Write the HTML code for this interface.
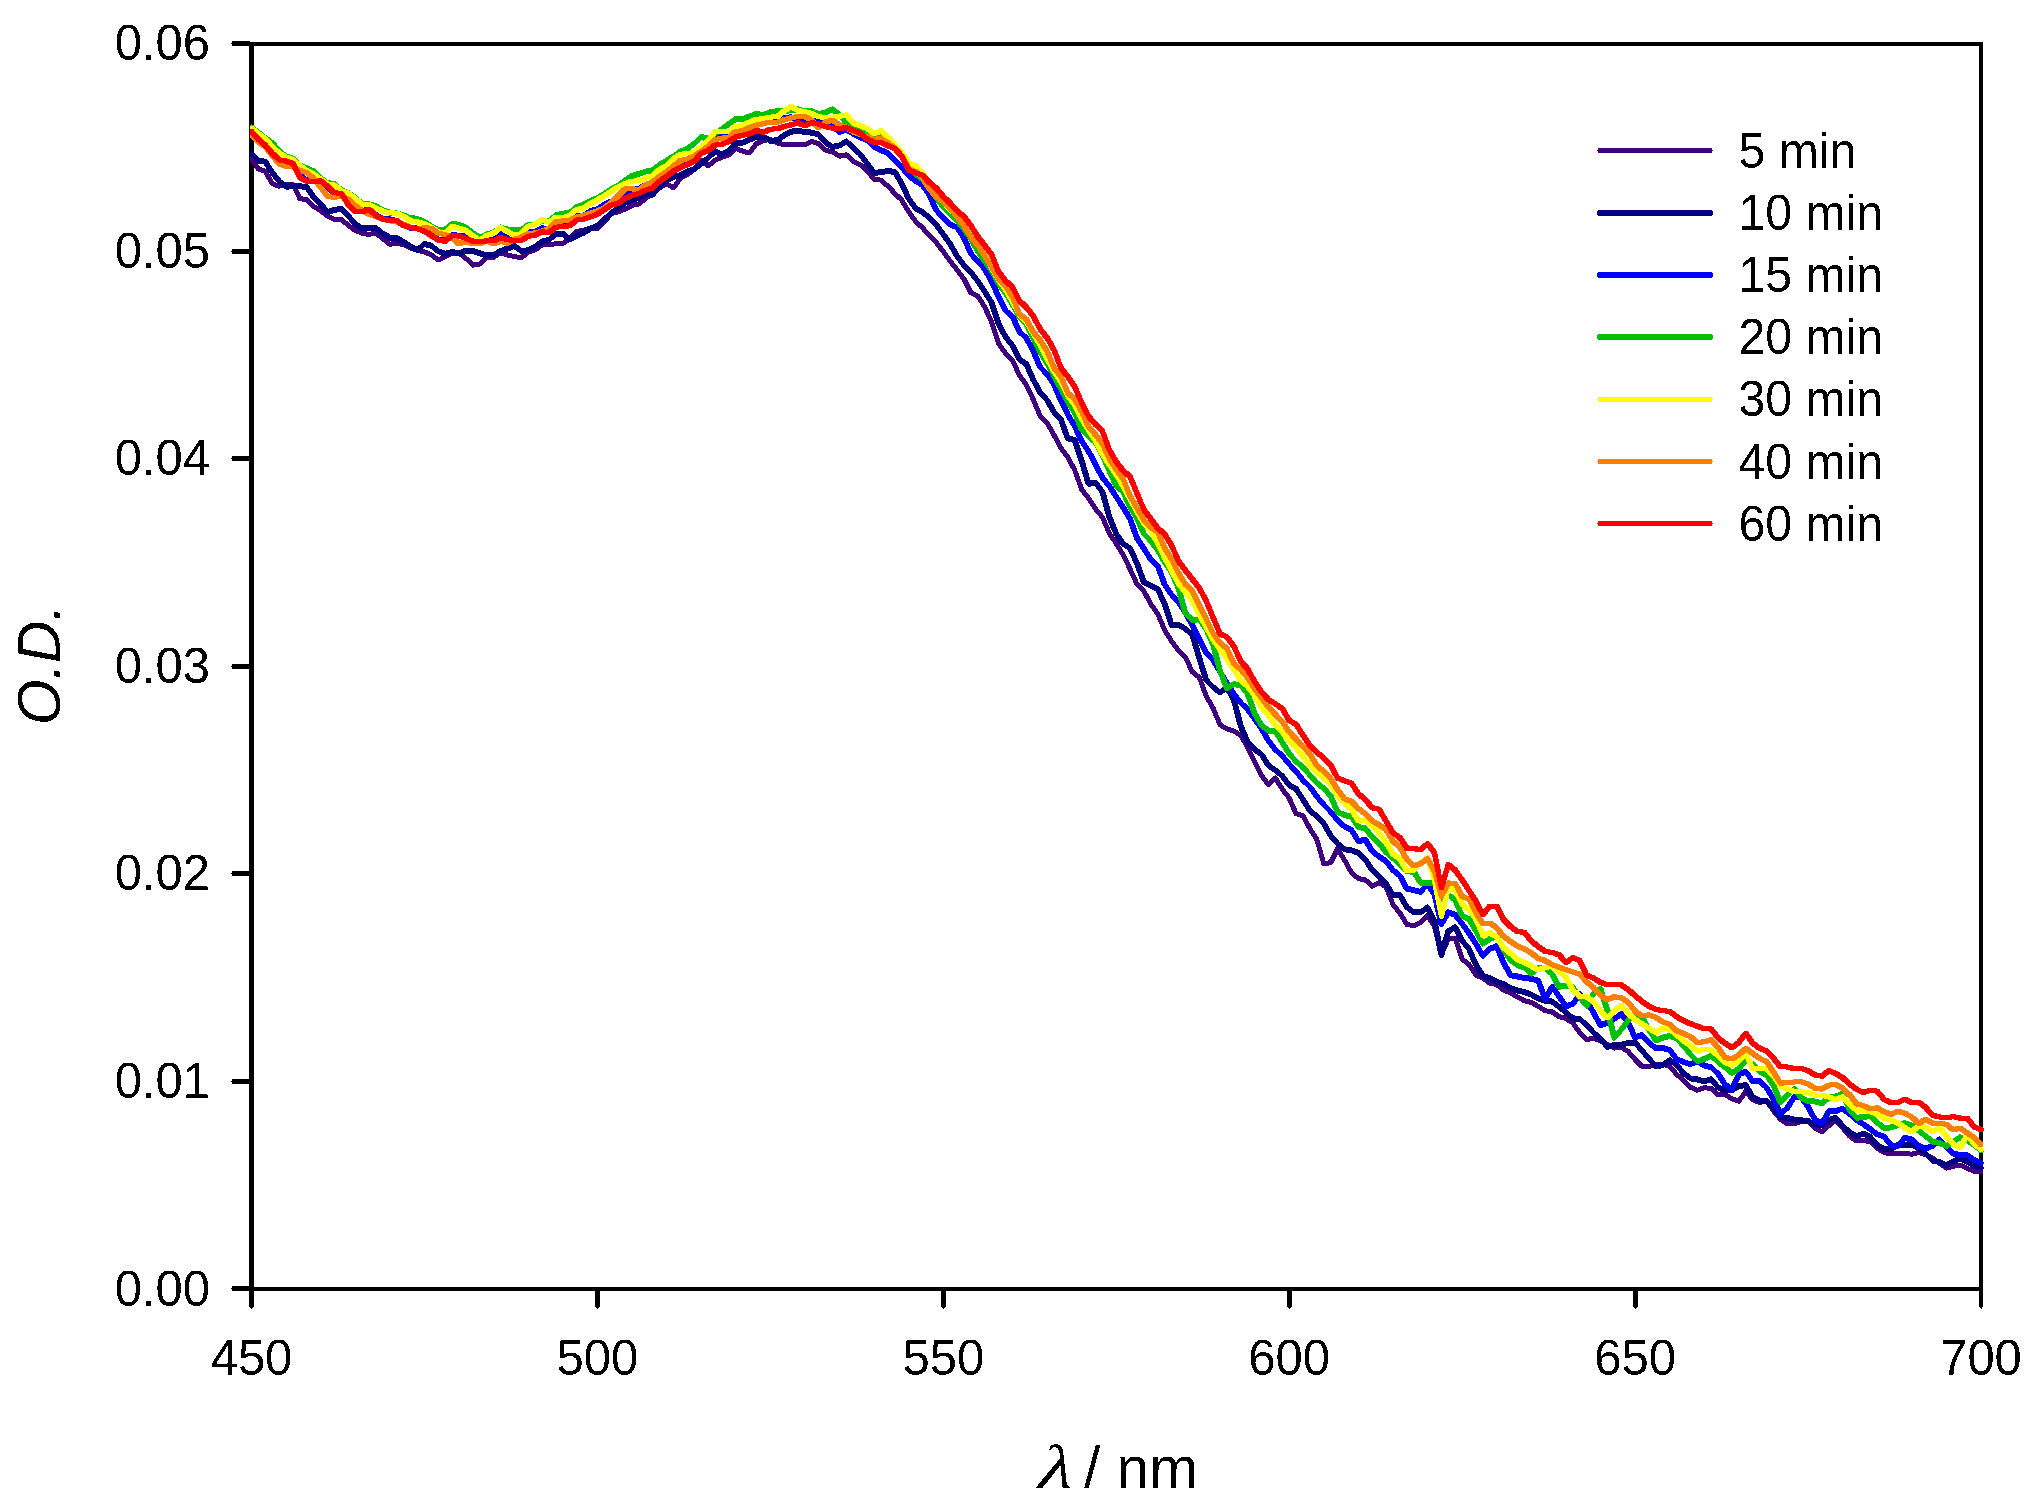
<!DOCTYPE html>
<html><head><meta charset="utf-8"><title>O.D. vs wavelength</title>
<style>
html,body{margin:0;padding:0;background:#fff;}
body{width:2037px;height:1503px;overflow:hidden;}
svg{display:block;}
text{font-family:"Liberation Sans",Arial,sans-serif;fill:#000;}
.txt{filter:url(#bin);}
.tk{font-size:49px;}
.ti{font-size:58px;}
.ax{stroke:#000;stroke-width:4;fill:none;stroke-linecap:butt;}
.cv use,polyline{fill:none;stroke-linejoin:round;stroke-linecap:round;}
.lg line{stroke-width:4.5;stroke-linecap:round;}
</style></head><body>
<svg width="2037" height="1503" viewBox="0 0 2037 1503">
<rect width="2037" height="1503" fill="#fff"/>
<defs><filter id="bin" x="0" y="0" width="100%" height="100%" filterUnits="userSpaceOnUse" color-interpolation-filters="sRGB"><feComponentTransfer><feFuncA type="discrete" tableValues="0 1"/></feComponentTransfer></filter></defs>

<g fill="#000" shape-rendering="crispEdges">
<rect x="249" y="42" width="5" height="1249"/>
<rect x="1979" y="42" width="4" height="1249"/>
<rect x="249" y="42" width="1734" height="4"/>
<rect x="249" y="1287" width="1734" height="4"/>
<rect x="232" y="1286" width="18" height="5"/><rect x="231" y="1288" width="1" height="1"/>
<rect x="232" y="1079" width="18" height="5"/><rect x="231" y="1081" width="1" height="1"/>
<rect x="232" y="871" width="18" height="5"/><rect x="231" y="873" width="1" height="1"/>
<rect x="232" y="664" width="18" height="5"/><rect x="231" y="666" width="1" height="1"/>
<rect x="232" y="456" width="18" height="5"/><rect x="231" y="458" width="1" height="1"/>
<rect x="232" y="249" width="18" height="5"/><rect x="231" y="251" width="1" height="1"/>
<rect x="232" y="41" width="18" height="5"/><rect x="231" y="43" width="1" height="1"/>
<rect x="249" y="1290" width="5" height="17"/><rect x="250" y="1307" width="3" height="1"/><rect x="251" y="1308" width="1" height="1"/>
<rect x="595" y="1290" width="5" height="17"/><rect x="596" y="1307" width="3" height="1"/><rect x="597" y="1308" width="1" height="1"/>
<rect x="941" y="1290" width="5" height="17"/><rect x="942" y="1307" width="3" height="1"/><rect x="943" y="1308" width="1" height="1"/>
<rect x="1287" y="1290" width="5" height="17"/><rect x="1288" y="1307" width="3" height="1"/><rect x="1289" y="1308" width="1" height="1"/>
<rect x="1633" y="1290" width="5" height="17"/><rect x="1634" y="1307" width="3" height="1"/><rect x="1635" y="1308" width="1" height="1"/>
<rect x="1979" y="1290" width="4" height="17"/><rect x="1980" y="1307" width="2" height="1"/><rect x="1981" y="1308" width="1" height="1"/>
</g>
<g class="txt"><g class="tk">
<text transform="translate(210.0,1305.6) scale(1.000,1.035)" text-anchor="end">0.00</text>
<text transform="translate(210.0,1098.0) scale(1.000,1.035)" text-anchor="end">0.01</text>
<text transform="translate(210.0,890.4) scale(1.000,1.035)" text-anchor="end">0.02</text>
<text transform="translate(210.0,682.9) scale(1.000,1.035)" text-anchor="end">0.03</text>
<text transform="translate(210.0,475.3) scale(1.000,1.035)" text-anchor="end">0.04</text>
<text transform="translate(210.0,267.7) scale(1.000,1.035)" text-anchor="end">0.05</text>
<text transform="translate(210.0,60.1) scale(1.000,1.035)" text-anchor="end">0.06</text>
<text transform="translate(251.5,1375.1) scale(1.000,1.035)" text-anchor="middle">450</text>
<text transform="translate(597.4,1375.1) scale(1.000,1.035)" text-anchor="middle">500</text>
<text transform="translate(943.3,1375.1) scale(1.000,1.035)" text-anchor="middle">550</text>
<text transform="translate(1289.2,1375.1) scale(1.000,1.035)" text-anchor="middle">600</text>
<text transform="translate(1635.1,1375.1) scale(1.000,1.035)" text-anchor="middle">650</text>
<text transform="translate(1981.0,1375.1) scale(1.000,1.035)" text-anchor="middle">700</text>
</g>
<text class="ti" transform="translate(60.3,664.8) rotate(-90) scale(1.012,1.06)" text-anchor="middle" font-style="italic">O.D.</text>
<text transform="translate(1034,1487.6) skewX(-16) scale(1.2,1)" style="font-family:&quot;Liberation Serif&quot;,serif;font-size:62px">λ</text>
<text transform="translate(1084.0,1487.8) scale(1.012,1.035)" text-anchor="start" class="ti">/ nm</text>
</g>
<defs><polyline id="c_purple" points="251.5,159.2 258.4,169.1 265.3,171.4 272.3,183.7 279.2,186.2 286.1,184.4 293,184.8 299.9,198.7 306.8,199.5 313.8,206.4 320.7,210.9 327.6,216.2 334.5,219.6 341.4,219.4 348.4,225.5 355.3,230.5 362.2,233.2 369.1,234.5 376,232.9 382.9,238.9 389.9,244.2 396.8,243.4 403.7,244.7 410.6,248 417.5,250.5 424.4,251.8 431.4,255 438.3,260 445.2,256.4 452.1,253.2 459,253.1 466,258.5 472.9,265.1 479.8,264.1 486.7,257.8 493.6,257.4 500.5,252.7 507.5,255 514.4,256.6 521.3,257.7 528.2,252.3 535.1,250 542.1,245 549,244.7 555.9,243.8 562.8,243.6 569.7,238.7 576.6,231.4 583.6,230.2 590.5,228 597.4,229 604.3,221.8 611.2,213.8 618.2,211.7 625.1,209.2 632,205.4 638.9,203.9 645.8,198.4 652.7,193.3 659.7,187.7 666.6,184 673.5,187.8 680.4,178.3 687.3,174.5 694.3,169.6 701.2,160.5 708.1,166 715,160.2 721.9,157.4 728.8,155.1 735.8,148.3 742.7,151.3 749.6,152.9 756.5,143.7 763.4,140.5 770.4,139.4 777.3,143 784.2,144.7 791.1,144.3 798,144.4 804.9,144.8 811.9,141.4 818.8,143.7 825.7,150.3 832.6,151.9 839.5,156.2 846.4,154.8 853.4,161.7 860.3,164.8 867.2,170.9 874.1,179.4 881,180.1 888,186.3 894.9,193.5 901.8,200.2 908.7,211.8 915.6,221.3 922.5,227.9 929.5,235.4 936.4,242.7 943.3,251.6 950.2,261.3 957.1,270 964.1,279.1 971,292.9 977.9,296.2 984.8,307.2 991.7,322.3 998.6,343.6 1005.6,353.3 1012.5,360.3 1019.4,375.2 1026.3,384.9 1033.2,399.4 1040.2,416 1047.1,422.8 1054,435 1060.9,448.1 1067.8,457 1074.7,470.2 1081.7,489.4 1088.6,498.4 1095.5,508.9 1102.4,517.1 1109.3,533.3 1116.2,543.5 1123.2,554.9 1130.1,569.2 1137,584.3 1143.9,591.1 1150.8,604 1157.8,614 1164.7,630.1 1171.6,641.4 1178.5,650.4 1185.4,657.3 1192.3,671.9 1199.3,677.4 1206.2,696 1213.1,708.1 1220,724.7 1226.9,728.9 1233.9,731.1 1240.8,735.5 1247.7,747.5 1254.6,761.5 1261.5,775.7 1268.4,784.4 1275.4,778 1282.3,789.2 1289.2,798.2 1296.1,813.7 1303,815.8 1310,828.8 1316.9,839.6 1323.8,863.7 1330.7,862.7 1337.6,848.7 1344.5,860.1 1351.5,872.7 1358.4,878.6 1365.3,879.9 1372.2,886.2 1379.1,882.8 1386.1,886.7 1393,904.6 1399.9,913 1406.8,924.4 1413.7,925.8 1420.6,922.5 1427.6,915.7 1434.5,926.4 1441.4,954.5 1448.3,938.8 1455.2,938.2 1462.2,959.3 1469.1,964.4 1476,975.2 1482.9,978.2 1489.8,983.2 1496.7,984.6 1503.7,990.3 1510.6,992.9 1517.5,997.1 1524.4,1000.7 1531.3,1002.4 1538.2,1006.3 1545.2,1010.7 1552.1,1011.9 1559,1016.5 1565.9,1018.5 1572.8,1023 1579.8,1032.6 1586.7,1039.7 1593.6,1038 1600.5,1041.1 1607.4,1044.4 1614.3,1048.1 1621.3,1047.3 1628.2,1051.6 1635.1,1059.6 1642,1066.5 1648.9,1066.3 1655.9,1065 1662.8,1064.2 1669.7,1066.4 1676.6,1074.4 1683.5,1080.2 1690.4,1087.3 1697.4,1090.2 1704.3,1087.8 1711.2,1088.3 1718.1,1094.8 1725,1094.3 1732,1099 1738.9,1101.1 1745.8,1091.6 1752.7,1099.6 1759.6,1102.7 1766.5,1100.6 1773.5,1110.9 1780.4,1119.3 1787.3,1123.9 1794.2,1123.7 1801.1,1121.7 1808,1120.2 1815,1127.9 1821.9,1132 1828.8,1125.7 1835.7,1120 1842.6,1127.8 1849.6,1136.2 1856.5,1141 1863.4,1140.5 1870.3,1141.6 1877.2,1148.4 1884.1,1152.5 1891.1,1154 1898,1153.7 1904.9,1153.5 1911.8,1154.2 1918.7,1152.4 1925.7,1154.6 1932.6,1157.9 1939.5,1163.4 1946.4,1168.1 1953.3,1166.3 1960.2,1165.1 1967.2,1168.4 1974.1,1171.2 1981,1171.4"/><polyline id="c_navy" points="251.5,153.4 258.4,160.5 265.3,161.7 272.3,172.5 279.2,181.3 286.1,186.6 293,186.4 299.9,186.2 306.8,187.2 313.8,197.3 320.7,203.9 327.6,212.3 334.5,209.8 341.4,209.1 348.4,216.1 355.3,224.2 362.2,228.5 369.1,228.2 376,228.2 382.9,233.6 389.9,237.6 396.8,238 403.7,242.1 410.6,246.3 417.5,250 424.4,243.9 431.4,245.8 438.3,251.3 445.2,253.8 452.1,251.9 459,253.4 466,250.5 472.9,251.1 479.8,253.2 486.7,255.4 493.6,255 500.5,251.1 507.5,248.5 514.4,246 521.3,250.8 528.2,250.4 535.1,246.6 542.1,241.5 549,239.9 555.9,233.9 562.8,233.6 569.7,239.3 576.6,235.9 583.6,232.8 590.5,228.6 597.4,225.6 604.3,219.3 611.2,213.2 618.2,207.9 625.1,202.6 632,200 638.9,197.8 645.8,194.1 652.7,194.6 659.7,186.6 666.6,180.8 673.5,176.9 680.4,175.3 687.3,171.5 694.3,169 701.2,163.8 708.1,158 715,151.3 721.9,154.6 728.8,150.7 735.8,142.8 742.7,142.6 749.6,139.7 756.5,136.5 763.4,136.6 770.4,140.9 777.3,140.1 784.2,135.3 791.1,131.7 798,130.7 804.9,132.1 811.9,132.6 818.8,134.6 825.7,142.7 832.6,147 839.5,145.4 846.4,141.5 853.4,147.7 860.3,154.4 867.2,163.7 874.1,173 881,172.1 888,171.1 894.9,171.9 901.8,183.8 908.7,198.7 915.6,208.3 922.5,212.1 929.5,217.9 936.4,225 943.3,234.4 950.2,244 957.1,256.1 964.1,265.4 971,272.4 977.9,281.3 984.8,291.8 991.7,302.8 998.6,324.1 1005.6,336.9 1012.5,345.6 1019.4,359.5 1026.3,364 1033.2,379.5 1040.2,392.7 1047.1,400 1054,412.1 1060.9,419.4 1067.8,438.5 1074.7,440 1081.7,461.1 1088.6,483.8 1095.5,482.9 1102.4,491.7 1109.3,516.8 1116.2,533.8 1123.2,543.9 1130.1,548.4 1137,563.4 1143.9,582.4 1150.8,585.8 1157.8,589 1164.7,604.2 1171.6,625.1 1178.5,625 1185.4,628.8 1192.3,634.7 1199.3,658.1 1206.2,680 1213.1,687.1 1220,692.5 1226.9,687.4 1233.9,700 1240.8,726.2 1247.7,742.1 1254.6,749.5 1261.5,754.3 1268.4,765.4 1275.4,770.3 1282.3,776 1289.2,785.2 1296.1,788.9 1303,799.6 1310,810.8 1316.9,816.2 1323.8,823.6 1330.7,835.7 1337.6,843.6 1344.5,849.3 1351.5,850.3 1358.4,852.9 1365.3,859.5 1372.2,870.1 1379.1,876.5 1386.1,883.8 1393,895.4 1399.9,895.1 1406.8,907.2 1413.7,912.1 1420.6,912.3 1427.6,907.4 1434.5,921 1441.4,954.9 1448.3,931.2 1455.2,927.2 1462.2,940.7 1469.1,949.1 1476,965 1482.9,975.8 1489.8,978.3 1496.7,981.8 1503.7,984.1 1510.6,988 1517.5,990.5 1524.4,992.1 1531.3,994.6 1538.2,998.3 1545.2,1000.7 1552.1,1001.6 1559,1006.7 1565.9,1012.3 1572.8,1018.3 1579.8,1019.1 1586.7,1025.1 1593.6,1032.6 1600.5,1038.9 1607.4,1046.9 1614.3,1045.1 1621.3,1044.8 1628.2,1042.9 1635.1,1042.6 1642,1050.6 1648.9,1058.6 1655.9,1066.3 1662.8,1065.2 1669.7,1060.2 1676.6,1064.7 1683.5,1073.2 1690.4,1078.4 1697.4,1079.5 1704.3,1081.4 1711.2,1079.2 1718.1,1087.4 1725,1090.7 1732,1090.2 1738.9,1086 1745.8,1085.2 1752.7,1097.2 1759.6,1100.5 1766.5,1100.8 1773.5,1108.1 1780.4,1117.3 1787.3,1117.8 1794.2,1119.5 1801.1,1120.3 1808,1121.4 1815,1124.2 1821.9,1124.8 1828.8,1119.9 1835.7,1117.7 1842.6,1125.8 1849.6,1132.2 1856.5,1136.1 1863.4,1133.7 1870.3,1137 1877.2,1145.2 1884.1,1148.8 1891.1,1149.2 1898,1144.6 1904.9,1145.4 1911.8,1144.6 1918.7,1148.2 1925.7,1153.6 1932.6,1160.6 1939.5,1162.1 1946.4,1165.1 1953.3,1161.7 1960.2,1158.1 1967.2,1161.7 1974.1,1165.4 1981,1168.2"/><polyline id="c_blue" points="251.5,132.9 258.4,140.2 265.3,145.9 272.3,153.5 279.2,158.1 286.1,160.1 293,162.1 299.9,175.1 306.8,180.3 313.8,181.2 320.7,181.6 327.6,188.6 334.5,192.8 341.4,193.8 348.4,202.3 355.3,209.6 362.2,211.4 369.1,208.9 376,214.9 382.9,218.9 389.9,219.3 396.8,221.2 403.7,225.3 410.6,227.8 417.5,228.6 424.4,231.2 431.4,235.1 438.3,239.6 445.2,240.4 452.1,234.9 459,235.8 466,236.4 472.9,238.8 479.8,240.2 486.7,237.6 493.6,238.9 500.5,233.9 507.5,235.9 514.4,238.1 521.3,237.5 528.2,232.2 535.1,231.9 542.1,228.2 549,229.6 555.9,224.4 562.8,223.1 569.7,222 576.6,216.5 583.6,215.8 590.5,211 597.4,209.3 604.3,204.6 611.2,201.4 618.2,198.8 625.1,194.6 632,189.8 638.9,188.7 645.8,184.7 652.7,182.1 659.7,176.1 666.6,171.2 673.5,167.7 680.4,163.4 687.3,159.4 694.3,154.4 701.2,148.5 708.1,144.3 715,137.1 721.9,137 728.8,137.3 735.8,130.5 742.7,127.9 749.6,126.6 756.5,124.4 763.4,122.2 770.4,120.2 777.3,121.7 784.2,118.2 791.1,117.3 798,119.8 804.9,122.3 811.9,120.6 818.8,121.9 825.7,123.4 832.6,126.7 839.5,132 846.4,129.5 853.4,133.8 860.3,137.4 867.2,140.3 874.1,146.9 881,150.2 888,153.1 894.9,160.4 901.8,167.6 908.7,175.4 915.6,181.2 922.5,184.9 929.5,195.3 936.4,210.4 943.3,217.8 950.2,224.4 957.1,227.4 964.1,238.3 971,254 977.9,261.3 984.8,269.2 991.7,281.8 998.6,296.5 1005.6,310.7 1012.5,316.4 1019.4,331.8 1026.3,337.9 1033.2,350.7 1040.2,367.3 1047.1,374.3 1054,384.4 1060.9,400.6 1067.8,414.6 1074.7,426.1 1081.7,441 1088.6,451.4 1095.5,464.3 1102.4,477.6 1109.3,486 1116.2,496.8 1123.2,507.5 1130.1,519 1137,538.2 1143.9,548.5 1150.8,559.6 1157.8,565.9 1164.7,584.7 1171.6,594.7 1178.5,602.4 1185.4,612.5 1192.3,625.2 1199.3,638.9 1206.2,652.9 1213.1,659.9 1220,671.8 1226.9,683 1233.9,694.1 1240.8,702.7 1247.7,709.4 1254.6,718.8 1261.5,728.7 1268.4,740.7 1275.4,749.7 1282.3,755.8 1289.2,764.3 1296.1,771.4 1303,780.3 1310,786.9 1316.9,796.5 1323.8,804.7 1330.7,811.8 1337.6,820.4 1344.5,826.6 1351.5,830.1 1358.4,841.1 1365.3,839.7 1372.2,851.2 1379.1,856.5 1386.1,861.2 1393,870.2 1399.9,875.8 1406.8,888.6 1413.7,890.1 1420.6,892 1427.6,883.8 1434.5,894.6 1441.4,924.1 1448.3,912.3 1455.2,914.9 1462.2,924 1469.1,933.3 1476,944 1482.9,956 1489.8,948.9 1496.7,946.1 1503.7,963 1510.6,975.3 1517.5,976.5 1524.4,978 1531.3,978.8 1538.2,980.6 1545.2,999 1552.1,986.8 1559,996.2 1565.9,1006.4 1572.8,1003.9 1579.8,994.3 1586.7,1001.2 1593.6,1012.7 1600.5,1025.3 1607.4,1022.7 1614.3,1018.8 1621.3,1013.9 1628.2,1022.8 1635.1,1037.5 1642,1035 1648.9,1042.8 1655.9,1048.1 1662.8,1047.9 1669.7,1050 1676.6,1059 1683.5,1062.1 1690.4,1064.2 1697.4,1061.4 1704.3,1065.6 1711.2,1067.4 1718.1,1073.8 1725,1084.4 1732,1089.1 1738.9,1074.3 1745.8,1071.6 1752.7,1081.2 1759.6,1081 1766.5,1087.6 1773.5,1099 1780.4,1113.9 1787.3,1107.9 1794.2,1097.1 1801.1,1097.4 1808,1106.7 1815,1119.6 1821.9,1123.3 1828.8,1111.4 1835.7,1111.1 1842.6,1108.6 1849.6,1113.8 1856.5,1119.9 1863.4,1124.3 1870.3,1129.1 1877.2,1134.3 1884.1,1136.5 1891.1,1145.4 1898,1145.8 1904.9,1137.8 1911.8,1139.6 1918.7,1145.9 1925.7,1148.6 1932.6,1145.9 1939.5,1139.3 1946.4,1146.6 1953.3,1153.5 1960.2,1155 1967.2,1155.1 1974.1,1159.9 1981,1162.9"/><polyline id="c_green" points="251.5,127.5 258.4,132.5 265.3,137.9 272.3,142.9 279.2,150.6 286.1,156.6 293,158.6 299.9,165.3 306.8,168.3 313.8,171.3 320.7,177.9 327.6,183.3 334.5,183.8 341.4,190.1 348.4,193.1 355.3,197.7 362.2,203.7 369.1,204.4 376,206.2 382.9,210.3 389.9,212.6 396.8,213.4 403.7,215.6 410.6,218.1 417.5,218.8 424.4,221.9 431.4,226.2 438.3,229.8 445.2,229.5 452.1,223.8 459,224.9 466,227.6 472.9,233 479.8,237.5 486.7,234.4 493.6,232.7 500.5,227.5 507.5,229.5 514.4,230.4 521.3,229.9 528.2,225 535.1,224.4 542.1,220.8 549,221.4 555.9,215.2 562.8,213.6 569.7,212.9 576.6,207 583.6,204.6 590.5,200.8 597.4,198 604.3,193.9 611.2,189.2 618.2,185.8 625.1,180.5 632,175.9 638.9,173.9 645.8,171.5 652.7,170.3 659.7,164.7 666.6,160.7 673.5,156.3 680.4,151.6 687.3,148.8 694.3,143.6 701.2,136.9 708.1,138.6 715,133.4 721.9,129.3 728.8,123.8 735.8,119 742.7,119 749.6,116.3 756.5,113.9 763.4,115.1 770.4,112.3 777.3,111.1 784.2,111.4 791.1,110 798,109.3 804.9,111.3 811.9,111.4 818.8,114 825.7,112.3 832.6,109.3 839.5,114.8 846.4,122.9 853.4,128.6 860.3,130.5 867.2,133.6 874.1,136.1 881,136.5 888,140 894.9,144.8 901.8,152.5 908.7,163.3 915.6,174.2 922.5,179.2 929.5,188 936.4,197.8 943.3,207 950.2,213.6 957.1,220.9 964.1,229.1 971,238.9 977.9,251.4 984.8,261.5 991.7,270.5 998.6,283.6 1005.6,293 1012.5,304.3 1019.4,316.8 1026.3,323.9 1033.2,338.1 1040.2,351.8 1047.1,363.4 1054,375.5 1060.9,388.7 1067.8,401.7 1074.7,412.6 1081.7,429.6 1088.6,436.6 1095.5,442.3 1102.4,454.9 1109.3,470.5 1116.2,486.1 1123.2,491.8 1130.1,507.2 1137,518.2 1143.9,533.9 1150.8,541 1157.8,550.1 1164.7,562.1 1171.6,572.2 1178.5,588.3 1185.4,613.3 1192.3,620 1199.3,619.3 1206.2,628.9 1213.1,644.5 1220,670.7 1226.9,688.2 1233.9,684.2 1240.8,685.1 1247.7,693.9 1254.6,713.4 1261.5,725.4 1268.4,730.5 1275.4,731.2 1282.3,742.4 1289.2,753.8 1296.1,761.5 1303,767.2 1310,775.3 1316.9,783 1323.8,788.3 1330.7,796.1 1337.6,812.2 1344.5,814.9 1351.5,816.8 1358.4,827.1 1365.3,828.3 1372.2,837 1379.1,843.4 1386.1,852.3 1393,858.2 1399.9,864.5 1406.8,871.3 1413.7,871.7 1420.6,882.8 1427.6,883.4 1434.5,883.1 1441.4,899.4 1448.3,894.7 1455.2,899.9 1462.2,916.2 1469.1,918.9 1476,930.9 1482.9,943.5 1489.8,939 1496.7,936.1 1503.7,950 1510.6,960.5 1517.5,965.1 1524.4,967.5 1531.3,973.6 1538.2,968 1545.2,968.1 1552.1,974 1559,986.8 1565.9,985.5 1572.8,987.2 1579.8,997.4 1586.7,1005.7 1593.6,993.2 1600.5,988.7 1607.4,1010.3 1614.3,1037.7 1621.3,1029.6 1628.2,1020.4 1635.1,1014.7 1642,1017 1648.9,1029.9 1655.9,1040.5 1662.8,1037.7 1669.7,1035.9 1676.6,1038.3 1683.5,1045.8 1690.4,1054.4 1697.4,1061.4 1704.3,1058.9 1711.2,1055.6 1718.1,1062 1725,1067.2 1732,1073.1 1738.9,1068.7 1745.8,1060.4 1752.7,1063.9 1759.6,1071.8 1766.5,1074.8 1773.5,1085.5 1780.4,1102.3 1787.3,1095.5 1794.2,1088.8 1801.1,1097.6 1808,1101.3 1815,1101.5 1821.9,1103.3 1828.8,1097.7 1835.7,1096.5 1842.6,1093.7 1849.6,1109.9 1856.5,1117.6 1863.4,1117.3 1870.3,1115.6 1877.2,1122.6 1884.1,1128 1891.1,1127.4 1898,1125.2 1904.9,1123.1 1911.8,1125.4 1918.7,1130.8 1925.7,1136.2 1932.6,1141.7 1939.5,1143 1946.4,1146 1953.3,1142 1960.2,1137.2 1967.2,1140.4 1974.1,1145 1981,1150.4"/><polyline id="c_yellow" points="251.5,128.1 258.4,133.6 265.3,138.9 272.3,146.7 279.2,153.2 286.1,157 293,159.5 299.9,165.7 306.8,170.7 313.8,174.2 320.7,179.3 327.6,184 334.5,185.1 341.4,190.7 348.4,193.4 355.3,198.7 362.2,204.3 369.1,204.8 376,208 382.9,211.3 389.9,212.8 396.8,213.2 403.7,216.4 410.6,220.8 417.5,222 424.4,223.7 431.4,227.4 438.3,231.9 445.2,232.9 452.1,226.3 459,228.2 466,230.5 472.9,235.7 479.8,240.4 486.7,235.5 493.6,233.3 500.5,227.6 507.5,231.5 514.4,235.5 521.3,233.7 528.2,226.3 535.1,224.4 542.1,219.8 549,222.3 555.9,217.2 562.8,217.8 569.7,215.5 576.6,209.6 583.6,208.2 590.5,203.4 597.4,199.9 604.3,195.8 611.2,191.3 618.2,187 625.1,183.7 632,181.2 638.9,180.7 645.8,178.1 652.7,176 659.7,169.5 666.6,165.7 673.5,158.8 680.4,154.4 687.3,153.4 694.3,152.7 701.2,147.3 708.1,140.8 715,131.3 721.9,131.6 728.8,131.9 735.8,126.9 742.7,125 749.6,122.1 756.5,119.3 763.4,118.8 770.4,117.1 777.3,116.6 784.2,111 791.1,106.7 798,110.5 804.9,111.6 811.9,113.8 818.8,116.8 825.7,117.5 832.6,117.2 839.5,116.2 846.4,115 853.4,123.3 860.3,125.7 867.2,128.5 874.1,133.8 881,130.8 888,137.6 894.9,145 901.8,152.2 908.7,163.1 915.6,165.7 922.5,172.8 929.5,184.4 936.4,192.4 943.3,201.8 950.2,209.7 957.1,215.2 964.1,224.4 971,233.4 977.9,243.3 984.8,253.3 991.7,268.2 998.6,279.7 1005.6,289.5 1012.5,301.4 1019.4,314.5 1026.3,321.4 1033.2,333.2 1040.2,344.7 1047.1,358.8 1054,371.2 1060.9,381.7 1067.8,395.7 1074.7,404.6 1081.7,418.9 1088.6,430 1095.5,440.3 1102.4,454 1109.3,464.6 1116.2,474.3 1123.2,486.2 1130.1,499.1 1137,511.4 1143.9,523.2 1150.8,530.6 1157.8,543.2 1164.7,557.7 1171.6,570.7 1178.5,583.5 1185.4,592.1 1192.3,599.7 1199.3,614.7 1206.2,626.9 1213.1,639.4 1220,649 1226.9,658.5 1233.9,669.2 1240.8,680.4 1247.7,686.3 1254.6,695.3 1261.5,707 1268.4,715.2 1275.4,724.6 1282.3,732.1 1289.2,740.2 1296.1,747.8 1303,756.2 1310,765.3 1316.9,772.1 1323.8,777.8 1330.7,784.2 1337.6,795.7 1344.5,803.1 1351.5,809.2 1358.4,820.8 1365.3,820.8 1372.2,825.3 1379.1,833.2 1386.1,842.3 1393,854.1 1399.9,858.9 1406.8,870.9 1413.7,870.2 1420.6,863.2 1427.6,857.6 1434.5,880.5 1441.4,916.2 1448.3,887.7 1455.2,889.8 1462.2,904.2 1469.1,909.7 1476,918.7 1482.9,935.3 1489.8,932.7 1496.7,937 1503.7,947.9 1510.6,953.5 1517.5,959.7 1524.4,962.5 1531.3,966 1538.2,969.9 1545.2,967.4 1552.1,966.2 1559,971.3 1565.9,977 1572.8,990.3 1579.8,996.2 1586.7,997 1593.6,1001.6 1600.5,1010.7 1607.4,1017.9 1614.3,1010.9 1621.3,1005.2 1628.2,1013.6 1635.1,1019.6 1642,1023.9 1648.9,1028.4 1655.9,1032.4 1662.8,1028.4 1669.7,1029.2 1676.6,1034.8 1683.5,1040.8 1690.4,1045.5 1697.4,1050.9 1704.3,1049.1 1711.2,1050.2 1718.1,1055.5 1725,1062.5 1732,1065.2 1738.9,1060.8 1745.8,1053.2 1752.7,1068.7 1759.6,1068.9 1766.5,1068.6 1773.5,1075.5 1780.4,1086.1 1787.3,1089 1794.2,1091.6 1801.1,1091.8 1808,1092.5 1815,1095.2 1821.9,1095.3 1828.8,1096.9 1835.7,1099.7 1842.6,1096.8 1849.6,1103.9 1856.5,1110.3 1863.4,1110.4 1870.3,1111.6 1877.2,1114.3 1884.1,1118.2 1891.1,1120.3 1898,1123.2 1904.9,1127.8 1911.8,1131.8 1918.7,1125.8 1925.7,1127.4 1932.6,1131.5 1939.5,1127.9 1946.4,1136.3 1953.3,1144.2 1960.2,1147.6 1967.2,1135.1 1974.1,1143.5 1981,1149.5"/><polyline id="c_orange" points="251.5,135 258.4,142.3 265.3,146.6 272.3,155.6 279.2,163.8 286.1,166.4 293,167 299.9,170.4 306.8,172.6 313.8,178.4 320.7,187.3 327.6,196.1 334.5,197.4 341.4,195.5 348.4,199.4 355.3,205.6 362.2,210.8 369.1,214.2 376,216.6 382.9,219.1 389.9,220.8 396.8,221.7 403.7,224.2 410.6,227.2 417.5,229 424.4,227.7 431.4,228.4 438.3,233.2 445.2,234.7 452.1,237.5 459,243.9 466,241.4 472.9,243.9 479.8,243.6 486.7,240.9 493.6,243.9 500.5,241.2 507.5,243.1 514.4,239.2 521.3,237.3 528.2,233.6 535.1,232.9 542.1,231.3 549,228.2 555.9,221.7 562.8,220.9 569.7,220.4 576.6,217.1 583.6,215.4 590.5,213.4 597.4,211 604.3,208.1 611.2,202.5 618.2,195.9 625.1,189 632,188.7 638.9,190 645.8,184.7 652.7,181.9 659.7,176.4 666.6,171.9 673.5,166.2 680.4,160.7 687.3,158.9 694.3,156.1 701.2,151.4 708.1,146.5 715,139.6 721.9,138.2 728.8,137.4 735.8,131.4 742.7,130.8 749.6,127.5 756.5,125.3 763.4,123.6 770.4,122.1 777.3,122.3 784.2,119.8 791.1,117.8 798,116.4 804.9,116.4 811.9,120.7 818.8,127.9 825.7,121.7 832.6,120.4 839.5,124.8 846.4,127.4 853.4,131.9 860.3,134.3 867.2,136.6 874.1,139.4 881,138.4 888,142.9 894.9,148.1 901.8,156.2 908.7,168.8 915.6,171.6 922.5,178.2 929.5,189.1 936.4,196.6 943.3,201.8 950.2,208.1 957.1,216.9 964.1,226.1 971,237.2 977.9,245.3 984.8,256.3 991.7,267.1 998.6,278.6 1005.6,286.3 1012.5,296.9 1019.4,314.2 1026.3,319.2 1033.2,331.8 1040.2,340.2 1047.1,351.1 1054,367.8 1060.9,376.4 1067.8,393.1 1074.7,399.1 1081.7,411.4 1088.6,427.1 1095.5,434.5 1102.4,443.7 1109.3,458.4 1116.2,469.5 1123.2,478.9 1130.1,496 1137,508 1143.9,520 1150.8,527.5 1157.8,532.1 1164.7,548.3 1171.6,559.1 1178.5,573 1185.4,584.3 1192.3,590.9 1199.3,605.2 1206.2,619.2 1213.1,633.1 1220,642.9 1226.9,648.4 1233.9,663.7 1240.8,669.4 1247.7,678 1254.6,688.5 1261.5,697.7 1268.4,707 1275.4,714.4 1282.3,721.9 1289.2,732 1296.1,739.1 1303,746.7 1310,754 1316.9,765.8 1323.8,771.2 1330.7,778.5 1337.6,789.7 1344.5,798.8 1351.5,801.4 1358.4,808.6 1365.3,813.7 1372.2,821.1 1379.1,824.7 1386.1,829.6 1393,841.2 1399.9,847.3 1406.8,859.2 1413.7,865.9 1420.6,863.7 1427.6,858.8 1434.5,871.3 1441.4,896.2 1448.3,882.9 1455.2,883.6 1462.2,896.6 1469.1,899.1 1476,913 1482.9,923.6 1489.8,923 1496.7,927.8 1503.7,936.5 1510.6,941.5 1517.5,946.1 1524.4,948.9 1531.3,952.8 1538.2,958.4 1545.2,960.6 1552.1,964.7 1559,967.1 1565.9,969.7 1572.8,972 1579.8,974.1 1586.7,981.9 1593.6,987.7 1600.5,995.1 1607.4,999.7 1614.3,996.8 1621.3,997.7 1628.2,1002.4 1635.1,1011.1 1642,1016 1648.9,1014.9 1655.9,1017.4 1662.8,1022 1669.7,1024.3 1676.6,1030.7 1683.5,1033.5 1690.4,1036.7 1697.4,1042.5 1704.3,1041.7 1711.2,1039.8 1718.1,1047.5 1725,1057.4 1732,1059 1738.9,1054.9 1745.8,1048.4 1752.7,1053.4 1759.6,1058.4 1766.5,1061.6 1773.5,1072 1780.4,1083.3 1787.3,1082.5 1794.2,1082 1801.1,1081.8 1808,1084 1815,1088.2 1821.9,1089.1 1828.8,1085.1 1835.7,1084.5 1842.6,1088 1849.6,1094.7 1856.5,1103.7 1863.4,1105.7 1870.3,1108.9 1877.2,1107.8 1884.1,1111.7 1891.1,1114.2 1898,1111.3 1904.9,1113.3 1911.8,1117 1918.7,1123.5 1925.7,1119.2 1932.6,1123.3 1939.5,1123.4 1946.4,1124.3 1953.3,1130 1960.2,1128 1967.2,1133 1974.1,1137.3 1981,1144.9"/><polyline id="c_red" points="251.5,131.5 258.4,139.3 265.3,145.3 272.3,153.5 279.2,159.8 286.1,161.1 293,163.5 299.9,177.5 306.8,181.3 313.8,181.6 320.7,180.8 327.6,186.4 334.5,192.7 341.4,193.7 348.4,204.7 355.3,211.4 362.2,211.8 369.1,209.3 376,215.6 382.9,219.2 389.9,220.7 396.8,220.8 403.7,225.5 410.6,227.4 417.5,228.8 424.4,231.1 431.4,235.7 438.3,240 445.2,241.3 452.1,235.3 459,236.1 466,238.3 472.9,241.2 479.8,242 486.7,240.8 493.6,240.9 500.5,237.5 507.5,239.6 514.4,240.9 521.3,240.4 528.2,236.3 535.1,235.2 542.1,231.8 549,232.5 555.9,227.1 562.8,226.8 569.7,225.8 576.6,220.1 583.6,219.1 590.5,216.9 597.4,214.3 604.3,209.6 611.2,205.2 618.2,203.3 625.1,198.5 632,195.2 638.9,193.5 645.8,190 652.7,187.9 659.7,181.2 666.6,176.5 673.5,171.1 680.4,167.5 687.3,164.7 694.3,161.2 701.2,153.4 708.1,150.7 715,145.2 721.9,144.2 728.8,141.4 735.8,136.9 742.7,135.3 749.6,133.8 756.5,130.5 763.4,132.3 770.4,129.1 777.3,128.8 784.2,126.5 791.1,124.9 798,122.9 804.9,125.8 811.9,122.6 818.8,124.2 825.7,126.6 832.6,128.1 839.5,128.2 846.4,127.8 853.4,130.4 860.3,133.3 867.2,139.1 874.1,142.4 881,142.5 888,145.8 894.9,148.7 901.8,156 908.7,170.1 915.6,172.9 922.5,175.2 929.5,182.5 936.4,188.3 943.3,196.5 950.2,203.2 957.1,211 964.1,216.6 971,225.8 977.9,236.9 984.8,245.5 991.7,254.9 998.6,271.9 1005.6,280.8 1012.5,287.2 1019.4,300.6 1026.3,307.2 1033.2,315.8 1040.2,329.1 1047.1,337.7 1054,349.9 1060.9,367.8 1067.8,376.6 1074.7,386.7 1081.7,402.7 1088.6,416.3 1095.5,424.4 1102.4,431.1 1109.3,449.8 1116.2,461.8 1123.2,470.8 1130.1,476.6 1137,493.4 1143.9,509.6 1150.8,519 1157.8,528.2 1164.7,534.2 1171.6,545.4 1178.5,561 1185.4,570.4 1192.3,579.1 1199.3,588 1206.2,601 1213.1,617.5 1220,633.7 1226.9,636.9 1233.9,646.3 1240.8,661.5 1247.7,668.9 1254.6,681.7 1261.5,691.9 1268.4,699.6 1275.4,703.9 1282.3,708.6 1289.2,720.4 1296.1,724.3 1303,735.3 1310,745.6 1316.9,752.4 1323.8,758.1 1330.7,765.1 1337.6,778 1344.5,780.8 1351.5,783.2 1358.4,793.8 1365.3,799.6 1372.2,807.7 1379.1,809.3 1386.1,821.1 1393,832.9 1399.9,837.7 1406.8,848.1 1413.7,848.6 1420.6,849.6 1427.6,843.8 1434.5,852.8 1441.4,887.8 1448.3,864.6 1455.2,870 1462.2,880.2 1469.1,890.6 1476,901.5 1482.9,914.7 1489.8,906.2 1496.7,906 1503.7,919.7 1510.6,926.5 1517.5,931.6 1524.4,932.3 1531.3,941 1538.2,946.6 1545.2,951.5 1552.1,952.4 1559,954.8 1565.9,962.5 1572.8,957.8 1579.8,960.6 1586.7,975.4 1593.6,978.1 1600.5,982.4 1607.4,984.8 1614.3,984 1621.3,984.9 1628.2,989.5 1635.1,995.8 1642,1001.4 1648.9,1006.1 1655.9,1009.4 1662.8,1010.7 1669.7,1011.4 1676.6,1016.7 1683.5,1020.7 1690.4,1023.7 1697.4,1026.3 1704.3,1028.8 1711.2,1029 1718.1,1038 1725,1043.3 1732,1047.7 1738.9,1042.4 1745.8,1033.3 1752.7,1043.1 1759.6,1048.2 1766.5,1051.1 1773.5,1058.1 1780.4,1066.9 1787.3,1067 1794.2,1068.6 1801.1,1068.5 1808,1070.6 1815,1074.9 1821.9,1076.2 1828.8,1070.6 1835.7,1073.5 1842.6,1077.6 1849.6,1084.2 1856.5,1089.3 1863.4,1092.5 1870.3,1090.3 1877.2,1091.1 1884.1,1099.5 1891.1,1102.8 1898,1102.5 1904.9,1099.1 1911.8,1102.6 1918.7,1102.1 1925.7,1107.5 1932.6,1115.3 1939.5,1116.9 1946.4,1117.7 1953.3,1116.6 1960.2,1118.2 1967.2,1118 1974.1,1126.9 1981,1129.5"/></defs>
<clipPath id="cp"><rect x="250" y="40" width="1735" height="1262"/></clipPath>
<g class="cv" shape-rendering="crispEdges" clip-path="url(#cp)">
<g stroke="#400080" stroke-width="5"><use href="#c_purple" x="0" y="0"/></g>
<g stroke="#000080" stroke-width="4"><use href="#c_navy" x="0" y="0"/><use href="#c_navy" x="-1" y="0"/><use href="#c_navy" x="1" y="0"/><use href="#c_navy" x="0" y="-1"/><use href="#c_navy" x="0" y="1"/></g>
<g stroke="#0000ff" stroke-width="4"><use href="#c_blue" x="0" y="0"/><use href="#c_blue" x="-1" y="0"/><use href="#c_blue" x="1" y="0"/><use href="#c_blue" x="0" y="-1"/><use href="#c_blue" x="0" y="1"/></g>
<g stroke="#00c000" stroke-width="4"><use href="#c_green" x="0" y="0"/><use href="#c_green" x="-1" y="0"/><use href="#c_green" x="1" y="0"/><use href="#c_green" x="0" y="-1"/><use href="#c_green" x="0" y="1"/></g>
<g stroke="#ffff00" stroke-width="3"><use href="#c_yellow" x="-1" y="-1"/><use href="#c_yellow" x="-1" y="0"/><use href="#c_yellow" x="-1" y="1"/><use href="#c_yellow" x="0" y="-1"/><use href="#c_yellow" x="0" y="0"/><use href="#c_yellow" x="0" y="1"/><use href="#c_yellow" x="1" y="-1"/><use href="#c_yellow" x="1" y="0"/><use href="#c_yellow" x="1" y="1"/></g>
<g stroke="#ff8000" stroke-width="3"><use href="#c_orange" x="-1" y="-1"/><use href="#c_orange" x="-1" y="0"/><use href="#c_orange" x="-1" y="1"/><use href="#c_orange" x="0" y="-1"/><use href="#c_orange" x="0" y="0"/><use href="#c_orange" x="0" y="1"/><use href="#c_orange" x="1" y="-1"/><use href="#c_orange" x="1" y="0"/><use href="#c_orange" x="1" y="1"/></g>
<g stroke="#ff0000" stroke-width="3"><use href="#c_red" x="-1" y="-1"/><use href="#c_red" x="-1" y="0"/><use href="#c_red" x="-1" y="1"/><use href="#c_red" x="0" y="-1"/><use href="#c_red" x="0" y="0"/><use href="#c_red" x="0" y="1"/><use href="#c_red" x="1" y="-1"/><use href="#c_red" x="1" y="0"/><use href="#c_red" x="1" y="1"/></g>
</g>
<g shape-rendering="crispEdges">
<rect x="1598" y="148" width="114" height="5" fill="#400080"/><rect x="1597" y="150" width="116" height="1" fill="#400080"/>
<rect x="1598" y="210" width="114" height="6" fill="#000080"/><rect x="1597" y="211" width="116" height="4" fill="#000080"/>
<rect x="1598" y="272" width="114" height="6" fill="#0000ff"/><rect x="1597" y="273" width="116" height="4" fill="#0000ff"/>
<rect x="1598" y="334" width="114" height="6" fill="#00c000"/><rect x="1597" y="335" width="116" height="4" fill="#00c000"/>
<rect x="1598" y="397" width="114" height="5" fill="#ffff00"/><rect x="1597" y="399" width="116" height="1" fill="#ffff00"/>
<rect x="1598" y="459" width="114" height="5" fill="#ff8000"/><rect x="1597" y="461" width="116" height="1" fill="#ff8000"/>
<rect x="1598" y="521" width="114" height="5" fill="#ff0000"/><rect x="1597" y="523" width="116" height="1" fill="#ff0000"/>
</g><g class="txt tk">
<text transform="translate(1738.5,167.7) scale(0.983,1.035)" text-anchor="start">5 min</text>
<text transform="translate(1738.5,229.9) scale(0.983,1.035)" text-anchor="start">10 min</text>
<text transform="translate(1738.5,292.0) scale(0.983,1.035)" text-anchor="start">15 min</text>
<text transform="translate(1738.5,354.2) scale(0.983,1.035)" text-anchor="start">20 min</text>
<text transform="translate(1738.5,416.4) scale(0.983,1.035)" text-anchor="start">30 min</text>
<text transform="translate(1738.5,478.6) scale(0.983,1.035)" text-anchor="start">40 min</text>
<text transform="translate(1738.5,540.7) scale(0.983,1.035)" text-anchor="start">60 min</text>
</g>
</svg></body></html>
